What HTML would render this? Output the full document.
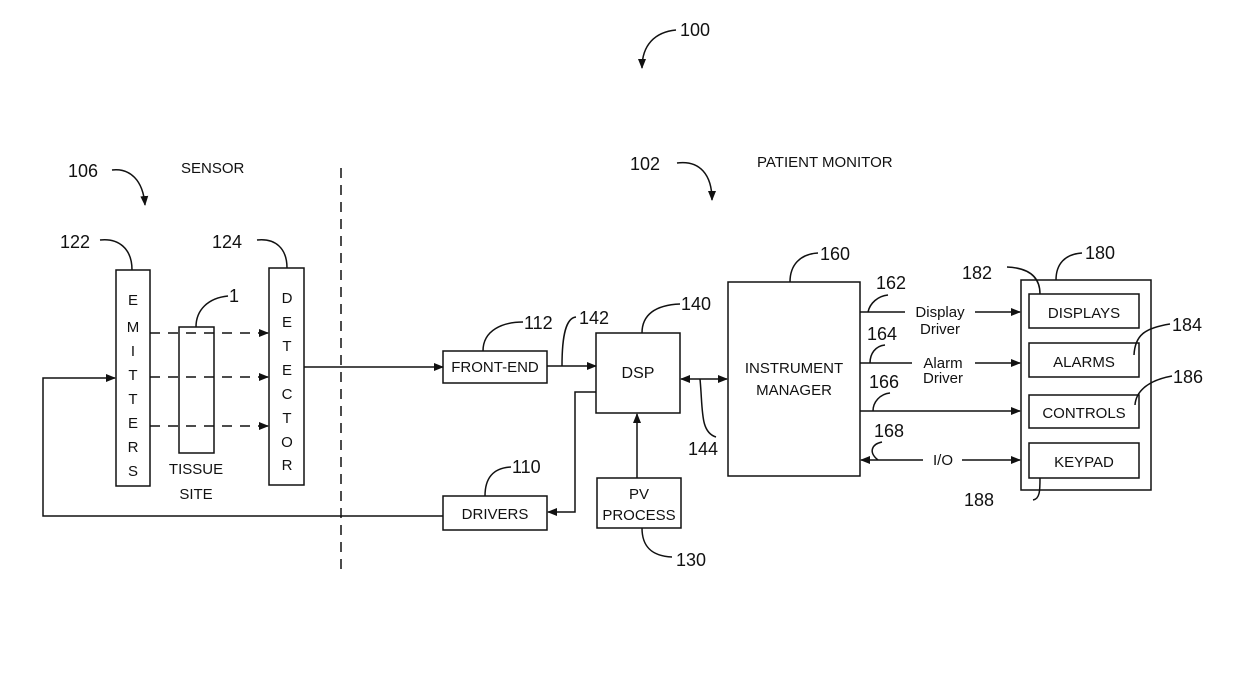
<!DOCTYPE html>
<html><head><style>
body{margin:0;background:#fff}
svg text{font-family:"Liberation Sans",sans-serif;fill:#111}
</style></head><body>
<svg width="1240" height="669" viewBox="0 0 1240 669" xmlns="http://www.w3.org/2000/svg">
<defs><marker id="a" markerWidth="10" markerHeight="8" refX="9" refY="4" orient="auto" markerUnits="userSpaceOnUse"><path d="M0,0 L10,4 L0,8 z" fill="#111"/></marker>
<marker id="b" markerWidth="10" markerHeight="8" refX="1" refY="4" orient="auto" markerUnits="userSpaceOnUse"><path d="M10,0 L0,4 L10,8 z" fill="#111"/></marker></defs>
<g fill="none" stroke="#111" stroke-width="1.5">
<path d="M676,30 C655,32 642,45 642,68" marker-end="url(#a)"/>
<path d="M112,170 C130,168 143,180 145,205" marker-end="url(#a)"/>
<path d="M677,163 C700,160 712,175 712,200" marker-end="url(#a)"/>
<line x1="341" y1="168" x2="341" y2="575" stroke-dasharray="10,7"/>
<rect x="116" y="270" width="34" height="216"/>
<rect x="179" y="327" width="35" height="126"/>
<rect x="269" y="268" width="35" height="217"/>
<rect x="443" y="351" width="104" height="32"/>
<rect x="596" y="333" width="84" height="80"/>
<rect x="443" y="496" width="104" height="34"/>
<rect x="597" y="478" width="84" height="50"/>
<rect x="728" y="282" width="132" height="194"/>
<rect x="1021" y="280" width="130" height="210"/>
<rect x="1029" y="294" width="110" height="34"/>
<rect x="1029" y="343" width="110" height="34"/>
<rect x="1029" y="395" width="110" height="33"/>
<rect x="1029" y="443" width="110" height="35"/>
<path d="M100,240 C118,238 132,248 132,270"/>
<path d="M257,240 C275,238 287,248 287,268"/>
<path d="M228,296 C208,298 196,310 196,327"/>
<path d="M523,322 C503,322 483,330 483,351"/>
<path d="M576,317 C566,318 562,335 562,366"/>
<path d="M680,304 C655,305 642,315 642,333"/>
<path d="M511,467 C493,468 485,478 485,496"/>
<path d="M672,557 C650,556 642,545 642,528"/>
<path d="M716,437 C700,432 703,410 700,379"/>
<path d="M818,253 C800,254 790,265 790,282"/>
<path d="M888,295 C878,296 870,303 868,312"/>
<path d="M885,345 C875,346 870,354 870,363"/>
<path d="M890,393 C880,394 873,402 873,411"/>
<path d="M882,442 C872,444 868,452 878,460"/>
<path d="M1007,267 C1030,268 1040,278 1040,294"/>
<path d="M1170,324 C1145,328 1135,335 1134,355"/>
<path d="M1172,376 C1150,380 1136,390 1135,405"/>
<path d="M1033,500 C1040,499 1040,490 1040,478"/>
<path d="M1082,253 C1065,254 1056,264 1056,280"/>
<line x1="150" y1="333" x2="268" y2="333" stroke-dasharray="10,8" marker-end="url(#a)"/>
<line x1="150" y1="377" x2="268" y2="377" stroke-dasharray="10,8" marker-end="url(#a)"/>
<line x1="150" y1="426" x2="268" y2="426" stroke-dasharray="10,8" marker-end="url(#a)"/>
<line x1="304" y1="367" x2="443" y2="367" marker-end="url(#a)"/>
<line x1="547" y1="366" x2="596" y2="366" marker-end="url(#a)"/>
<polyline points="596,392 575,392 575,512 548,512" marker-end="url(#a)"/>
<polyline points="443,516 43,516 43,378 115,378" marker-end="url(#a)"/>
<line x1="637" y1="478" x2="637" y2="414" marker-end="url(#a)"/>
<line x1="681" y1="379" x2="727" y2="379" marker-start="url(#b)" marker-end="url(#a)"/>
<line x1="860" y1="312" x2="905" y2="312"/>
<line x1="975" y1="312" x2="1020" y2="312" marker-end="url(#a)"/>
<line x1="860" y1="363" x2="912" y2="363"/>
<line x1="975" y1="363" x2="1020" y2="363" marker-end="url(#a)"/>
<line x1="860" y1="411" x2="1020" y2="411" marker-end="url(#a)"/>
<line x1="861" y1="460" x2="923" y2="460" marker-start="url(#b)"/>
<line x1="962" y1="460" x2="1020" y2="460" marker-end="url(#a)"/>
</g>
<g font-size="18">
<text x="680" y="36">100</text>
<text x="68" y="177">106</text>
<text x="630" y="170">102</text>
<text x="60" y="248">122</text>
<text x="212" y="248">124</text>
<text x="229" y="302">1</text>
<text x="524" y="329">112</text>
<text x="579" y="324">142</text>
<text x="681" y="310">140</text>
<text x="512" y="473">110</text>
<text x="676" y="566">130</text>
<text x="688" y="455">144</text>
<text x="820" y="260">160</text>
<text x="876" y="289">162</text>
<text x="867" y="340">164</text>
<text x="869" y="388">166</text>
<text x="874" y="437">168</text>
<text x="962" y="279">182</text>
<text x="1085" y="259">180</text>
<text x="1172" y="331">184</text>
<text x="1173" y="383">186</text>
<text x="964" y="506">188</text>
</g>
<g font-size="15">
<text x="181" y="173">SENSOR</text>
<text x="757" y="167">PATIENT MONITOR</text>
<text x="196" y="474" text-anchor="middle">TISSUE</text>
<text x="196" y="499" text-anchor="middle">SITE</text>
<g text-anchor="middle">
<text x="133" y="305">E</text><text x="133" y="332">M</text><text x="133" y="356">I</text><text x="133" y="380">T</text><text x="133" y="404">T</text><text x="133" y="428">E</text><text x="133" y="452">R</text><text x="133" y="467" dy="9">S</text>
<text x="287" y="303">D</text><text x="287" y="327">E</text><text x="287" y="351">T</text><text x="287" y="375">E</text><text x="287" y="399">C</text><text x="287" y="423">T</text><text x="287" y="447">O</text><text x="287" y="461" dy="9">R</text>
<text x="495" y="372">FRONT-END</text>
<text x="638" y="378" font-size="16">DSP</text>
<text x="495" y="519">DRIVERS</text>
<text x="639" y="499">PV</text>
<text x="639" y="520">PROCESS</text>
<text x="794" y="373">INSTRUMENT</text>
<text x="794" y="395">MANAGER</text>
<text x="940" y="317">Display</text>
<text x="940" y="334">Driver</text>
<text x="943" y="368">Alarm</text>
<text x="943" y="383">Driver</text>
<text x="943" y="465">I/O</text>
<text x="1084" y="318">DISPLAYS</text>
<text x="1084" y="367">ALARMS</text>
<text x="1084" y="418">CONTROLS</text>
<text x="1084" y="467">KEYPAD</text>
</g></g>
</svg>
</body></html>
